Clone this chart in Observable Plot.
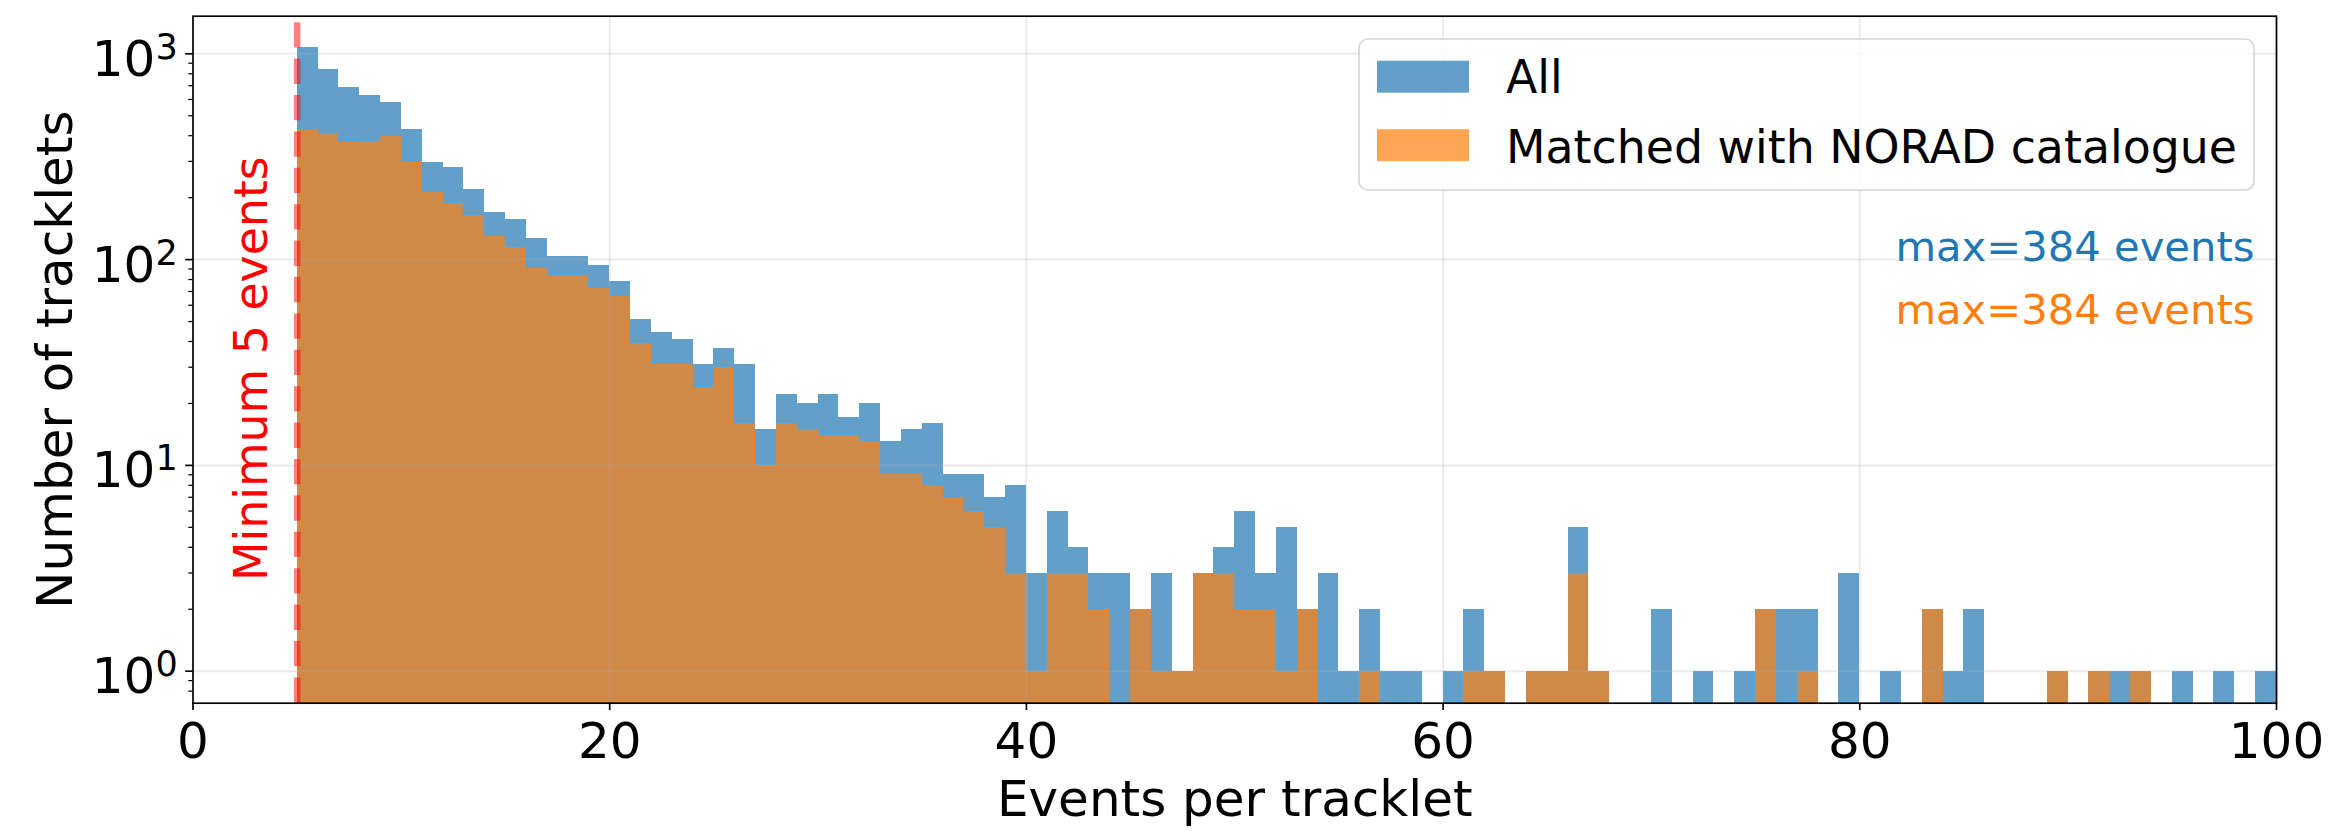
<!DOCTYPE html>
<html>
<head>
<meta charset="utf-8">
<script src="https://cdn.jsdelivr.net/npm/d3@7"></script>
<script src="https://cdn.jsdelivr.net/npm/@observablehq/plot@0.6"></script>
<style>
html, body { margin: 0; padding: 0; background: #fff; }
svg { display: block; }
</style>
</head>
<body>
<div id="chart"></div>
<script>
// ---- data (bins of width 1, left edges 5..99) ----
const binEdges = d3.range(5, 100);
const allCounts = [
  1070, 842, 684, 627, 580, 427, 297, 280, 219, 169,
  157, 126, 103, 103, 94, 78, 51, 44, 41, 31,
  37, 31, 15, 22, 20, 22, 17, 20, 13, 15,
  16, 9, 9, 7, 8, 3, 6, 4, 3, 3,
  2, 3, 1, 3, 4, 6, 3, 5, 2, 3,
  1, 2, 1, 1, 0, 1, 2, 1, 0, 1,
  1, 5, 1, 0, 0, 2, 0, 1, 0, 1,
  2, 2, 2, 0, 3, 0, 1, 0, 2, 1,
  2, 0, 0, 0, 1, 0, 1, 1, 1, 0,
  1, 0, 1, 0, 1
];
const matchedCounts = [
  427, 411, 372, 375, 397, 299, 213, 188, 163, 130,
  114, 91, 84, 84, 72, 66, 39, 31, 31, 24,
  30, 16, 10, 16, 15, 14, 14, 13, 9, 9,
  8, 7, 6, 5, 3, 1, 3, 3, 2, 0,
  2, 1, 1, 3, 3, 2, 2, 1, 2, 0,
  0, 1, 0, 0, 0, 0, 1, 1, 0, 1,
  1, 3, 1, 0, 0, 0, 0, 0, 0, 0,
  2, 0, 1, 0, 0, 0, 0, 0, 2, 0,
  0, 0, 0, 0, 1, 0, 1, 0, 1, 0,
  0, 0, 0, 0, 0
];
const seriesNames = ["All", "Matched with NORAD catalogue"];
const seriesColors = ["#1f77b4", "#ff7f0e"];
const maxEvents = [384, 384];
const minEvents = 5;
const xTicks = [0, 20, 40, 60, 80, 100];
const yTicks = [1, 10, 100, 1000];
const yMinorTicks = [0.8, 0.9, 2, 3, 4, 5, 6, 7, 8, 9, 20, 30, 40, 50, 60, 70, 80, 90, 200, 300, 400, 500, 600, 700, 800, 900];
const xLabel = "Events per tracklet";
const yLabel = "Number of tracklets";
const xDomain = [0, 100];
const yDomain = [0.699, 1523];

const bins = binEdges.map((x0, i) => ({x0, x1: x0 + 1, all: allCounts[i], matched: matchedCounts[i]}));

const gridStyle = {stroke: "#b0b0b0", strokeOpacity: 0.25, strokeWidth: 2};

const svg = Plot.plot({
  width: 2335,
  height: 831,
  marginLeft: 192.5,
  marginRight: 59,
  marginTop: 15.7,
  marginBottom: 128.3,
  x: {domain: xDomain},
  y: {type: "log", domain: yDomain},
  style: {fontFamily: "DejaVu Sans", background: "white", color: "black", overflow: "visible"},
  marks: [
    Plot.rectY(bins.filter(d => d.all > 0), {x1: "x0", x2: "x1", y1: yDomain[0], y2: "all", fill: seriesColors[0], fillOpacity: 0.7, shapeRendering: "crispEdges"}),
    Plot.rectY(bins.filter(d => d.matched > 0), {x1: "x0", x2: "x1", y1: yDomain[0], y2: "matched", fill: seriesColors[1], fillOpacity: 0.7, shapeRendering: "crispEdges"}),
    Plot.gridX(xTicks, gridStyle),
    Plot.gridY(yTicks, gridStyle),
    Plot.ruleX([minEvents], {y1: yDomain[0], y2: yDomain[1], stroke: "red", strokeOpacity: 0.5, strokeWidth: 6.5, strokeDasharray: "25.3,11.1"}),
    Plot.frame({stroke: "black", strokeWidth: 1.67}),
    Plot.axisX(xTicks, {tickSize: 7.3, strokeWidth: 1.67, tickPadding: 11.5, fontSize: 50, label: null, tickFormat: d => String(d)}),
    Plot.axisY(yMinorTicks, {tickSize: 4.2, strokeWidth: 1.25, fill: "none", label: null}),
    Plot.axisY(yTicks, {tickSize: 7.3, strokeWidth: 1.67, fill: "none", label: null}),
    Plot.axisY(yTicks, {tickSize: 7.3, tickPadding: 8, stroke: "none", fontSize: 50, dy: 6, label: null, tickFormat: d => "10^" + Math.round(Math.log10(d))}),
    Plot.text([xLabel], {text: d => d, frameAnchor: "bottom", dy: 112.3, lineAnchor: "bottom", fontSize: 50}),
    Plot.text([yLabel], {text: d => d, frameAnchor: "left", dx: -121, rotate: -90, lineAnchor: "bottom", textAnchor: "middle", fontSize: 50}),
    Plot.text([minEvents], {text: d => `Minimum ${d} events`, x: d => d, frameAnchor: "middle", dx: -30.5, dy: 9, rotate: -90, lineAnchor: "bottom", textAnchor: "middle", fill: "red", fontSize: 45.8}),
    Plot.text([maxEvents[0]], {text: d => `max=${d} events`, frameAnchor: "top-right", dx: -22, dy: 244.3, lineAnchor: "bottom", textAnchor: "end", fill: seriesColors[0], fontSize: 41.7}),
    Plot.text([maxEvents[1]], {text: d => `max=${d} events`, frameAnchor: "top-right", dx: -22, dy: 307.6, lineAnchor: "bottom", textAnchor: "end", fill: seriesColors[1], fontSize: 41.7})
  ]
});

// superscript exponents on log tick labels
d3.select(svg).selectAll('g[aria-label="y-axis tick label"] text').each(function() {
  const s = this.textContent;
  const parts = s.split("^");
  if (parts.length === 2) {
    const t = d3.select(this);
    t.text(parts[0]);
    t.append("tspan").attr("dy", -17).attr("font-size", 35).text(parts[1]);
  }
});

// legend (upper right, inside the axes)
const lg = d3.select(svg).append("g").attr("font-family", "DejaVu Sans").attr("text-anchor", "start");
lg.append("rect")
  .attr("x", 1359).attr("y", 39).attr("width", 895).attr("height", 151).attr("rx", 9)
  .attr("fill", "white").attr("fill-opacity", 0.8)
  .attr("stroke", "#cccccc").attr("stroke-opacity", 0.8).attr("stroke-width", 1.67);
seriesNames.forEach((name, i) => {
  lg.append("rect")
    .attr("x", 1377).attr("y", 60.7 + 68.5 * i).attr("width", 92).attr("height", 32)
    .attr("fill", seriesColors[i]).attr("fill-opacity", 0.7);
  lg.append("text")
    .attr("x", 1506).attr("y", 92.7 + 70 * i).attr("font-size", 45.8).attr("fill", "black")
    .attr("text-anchor", "start")
    .text(name);
});

document.getElementById("chart").appendChild(svg);
</script>
</body>
</html>
